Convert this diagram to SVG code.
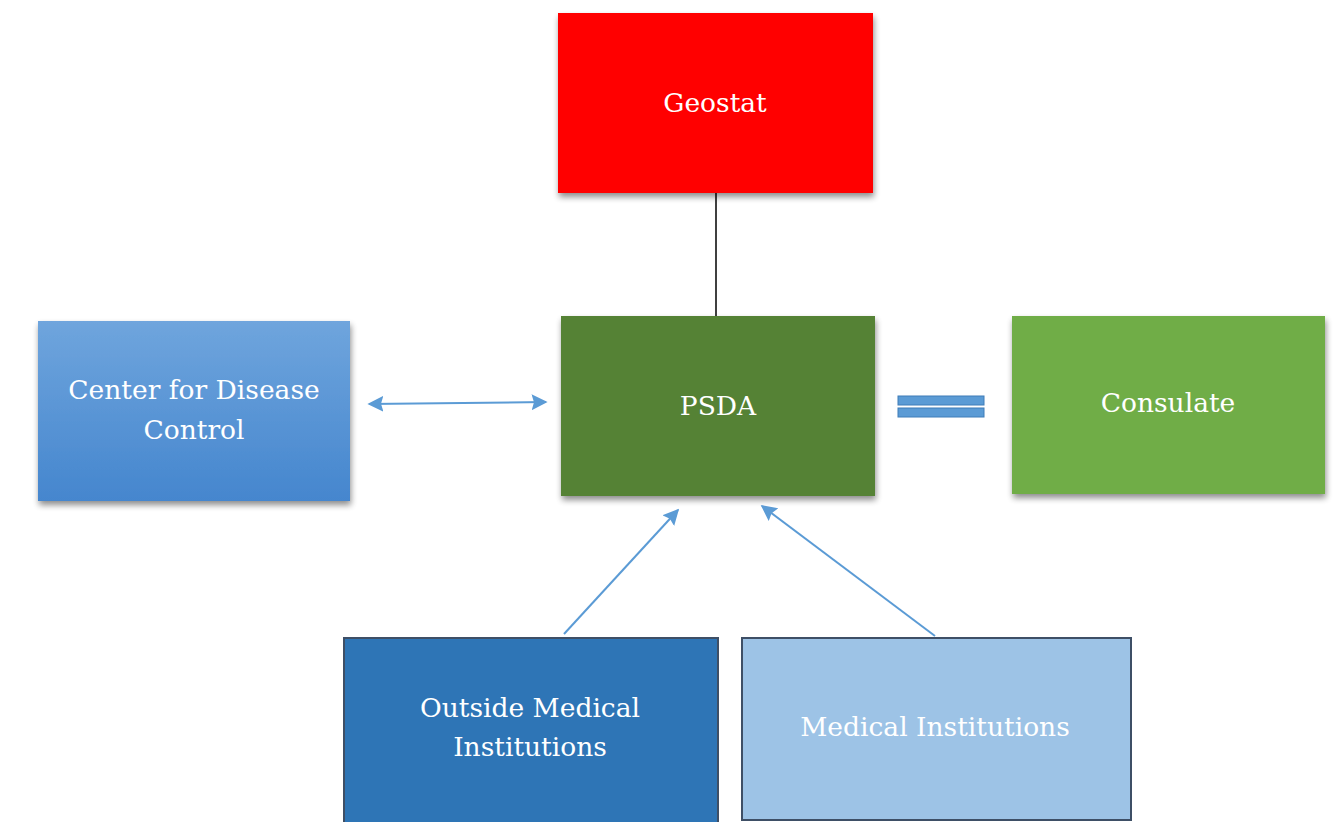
<svg xmlns="http://www.w3.org/2000/svg" width="1341" height="822" viewBox="0 0 1341 822">
<style>
.lbl{font-family:"DejaVu Serif","Liberation Serif",serif;font-size:26.5px;fill:#ffffff;text-anchor:middle}
.conn{stroke:#5B9BD5;stroke-width:2;fill:none}
</style>
<defs>
<filter id="sh" x="-10%" y="-10%" width="125%" height="130%">
<feGaussianBlur in="SourceAlpha" stdDeviation="3"/>
<feOffset dx="1" dy="4" result="b"/>
<feComponentTransfer><feFuncA type="linear" slope="0.45"/></feComponentTransfer>
<feMerge><feMergeNode/><feMergeNode in="SourceGraphic"/></feMerge>
</filter>
<linearGradient id="cdc" x1="0" y1="0" x2="0" y2="1">
<stop offset="0" stop-color="#6FA5DD"/>
<stop offset="1" stop-color="#4586CE"/>
</linearGradient>
<marker id="ah" viewBox="0 0 10 10" refX="9" refY="5" markerWidth="8" markerHeight="9" orient="auto-start-reverse" markerUnits="strokeWidth">
<path d="M0,0 L10,5 L0,10 L1.5,5 z" fill="#5B9BD5"/>
</marker>
</defs>
<rect width="1341" height="822" fill="#ffffff"/>
<g id="connectors">
<line x1="716" y1="193" x2="716" y2="316" stroke="#404040" stroke-width="2"/>
<line class="conn" x1="369" y1="404" x2="546" y2="402" marker-start="url(#ah)" marker-end="url(#ah)"/>
<g id="equal">
<rect x="898" y="396" width="86" height="9" fill="#5B9BD5" stroke="#3F7CB8" stroke-width="1"/>
<rect x="898" y="408" width="86" height="9" fill="#5B9BD5" stroke="#3F7CB8" stroke-width="1"/>
</g>
<line class="conn" x1="564" y1="634" x2="678" y2="510" marker-end="url(#ah)"/>
<line class="conn" x1="935" y1="636" x2="762" y2="506" marker-end="url(#ah)"/>
</g>
<g id="geostat">
<rect x="558" y="13" width="315" height="180" fill="#FF0000" filter="url(#sh)"/>
<text class="lbl" x="715" y="112">Geostat</text>
</g>
<g id="psda">
<rect x="561" y="316" width="314" height="180" fill="#548235" filter="url(#sh)"/>
<text class="lbl" x="718" y="415">PSDA</text>
</g>
<g id="consulate">
<rect x="1012" y="316" width="313" height="178" fill="#70AD47" filter="url(#sh)"/>
<text class="lbl" x="1168" y="412">Consulate</text>
</g>
<g id="cdc">
<rect x="38" y="321" width="312" height="180" fill="url(#cdc)" filter="url(#sh)"/>
<text class="lbl" x="194" y="399">Center for Disease</text>
<text class="lbl" x="194" y="439">Control</text>
</g>
<g id="outside">
<rect x="344" y="638" width="374" height="186" fill="#2E75B6" stroke="#3E4F66" stroke-width="2"/>
<text class="lbl" x="530" y="717">Outside Medical</text>
<text class="lbl" x="530" y="756">Institutions</text>
</g>
<g id="medical">
<rect x="742" y="638" width="389" height="182" fill="#9DC3E6" stroke="#3E4F66" stroke-width="2"/>
<text class="lbl" x="935" y="736">Medical Institutions</text>
</g>
</svg>
